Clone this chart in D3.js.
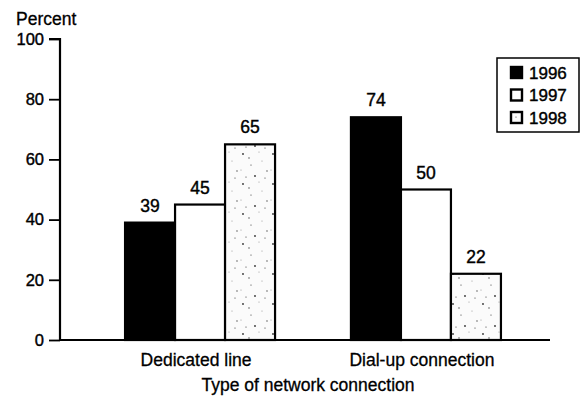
<!DOCTYPE html>
<html><head><meta charset="utf-8">
<script src="https://cdn.jsdelivr.net/npm/d3@7"></script>
<style>body{margin:0;background:#fff}text{font-family:"Liberation Sans",Arial,sans-serif;fill:#000}</style>
</head><body>
<svg id="c" width="580" height="399"></svg>
<script>
const categories = ["Dedicated line", "Dial-up connection"];
const years = ["1996", "1997", "1998"];
const values1996 = [39, 74];
const values1997 = [45, 50];
const values1998 = [65, 22];
const yTicks = [0, 20, 40, 60, 80, 100];
// fixed speckle offsets for the stippled texture (pattern decoration, not data)
const speckles = [[3,4],[19,2],[11,15],[27,21],[6,27],[22,11],[15,26],[1,20],[25,28],[9,8]];

const series = years.map((y, i) => ({year: y, values: [values1996, values1997, values1998][i]}));

const svg = d3.select("#c");
const defs = svg.append("defs");
const pat = defs.append("pattern").attr("id","stip").attr("patternUnits","userSpaceOnUse")
  .attr("width",30).attr("height",30);
pat.append("rect").attr("width",30).attr("height",30).attr("fill","#fbfbfb");
pat.selectAll("circle").data(speckles).join("circle")
  .attr("cx",d=>d[0]).attr("cy",d=>d[1]).attr("r",(d,i)=> i%3===0?0.9:0.6)
  .attr("fill",(d,i)=> i%2===0 ? "#333" : "#999");

const y = d3.scaleLinear().domain([0,100]).range([340,39]);
const x0 = d3.scaleBand().domain(categories).range([60,566]).paddingInner(0.336).paddingOuter(0.288);
const x1 = d3.scaleBand().domain(years).range([0, x0.bandwidth()]);
const fills = {"1996":"#000","1997":"#fff","1998":"url(#stip)"};
const FS = 17.5;

// bars
const g = svg.append("g");
categories.forEach((c, ci) => {
  series.forEach(s => {
    const v = s.values[ci];
    g.append("rect")
      .attr("x", x0(c) + x1(s.year))
      .attr("y", y(v))
      .attr("width", x1.bandwidth())
      .attr("height", y(0) - y(v))
      .attr("fill", fills[s.year])
      .attr("stroke", "#000").attr("stroke-width", 2.2);
    g.append("text")
      .attr("x", x0(c) + x1(s.year) + x1.bandwidth()/2)
      .attr("y", y(v) - 11)
      .attr("text-anchor","middle")
      .attr("font-size",FS).attr("stroke","#000").attr("stroke-width",0.4)
      .text(v);
  });
});

// y axis
const ax = svg.append("g").attr("transform","translate(60,0)")
  .call(d3.axisLeft(y).tickValues(yTicks).tickSize(11).tickPadding(5));
ax.select(".domain").attr("stroke-width",2.2).attr("d", `M-11,${y(100)}H0V${y(0)}`);
ax.selectAll(".tick line").attr("stroke-width",1.8);
ax.selectAll(".tick text").attr("font-size",16.5).attr("font-family","Liberation Sans, Arial, sans-serif")
  .attr("fill","#000").attr("stroke","#000").attr("stroke-width",0.4);

// baseline
svg.append("line").attr("x1",59).attr("x2",550).attr("y1",y(0)).attr("y2",y(0))
  .attr("stroke","#000").attr("stroke-width",2.2);

// category labels
svg.append("g").selectAll("text").data(categories).join("text")
  .attr("x", d => x0(d) + x0.bandwidth()/2 - 4)
  .attr("y", 366).attr("text-anchor","middle").attr("font-size",FS)
  .attr("stroke","#000").attr("stroke-width",0.3)
  .text(d => d);

svg.append("text").attr("x",308).attr("y",391).attr("text-anchor","middle")
  .attr("font-size",FS).attr("stroke","#000").attr("stroke-width",0.3)
  .text("Type of network connection");
svg.append("text").attr("x",16).attr("y",25).attr("font-size",FS)
  .attr("stroke","#000").attr("stroke-width",0.3).text("Percent");

// legend
const lg = svg.append("g");
lg.append("rect").attr("x",497).attr("y",58).attr("width",82).attr("height",74)
  .attr("fill","#fff").attr("stroke","#000").attr("stroke-width",1.5);
years.forEach((yr, i) => {
  const yy = 67 + i*22.5;
  lg.append("rect").attr("x",511).attr("y",yy).attr("width",11).attr("height",11)
    .attr("fill", fills[yr]).attr("stroke","#000").attr("stroke-width",2.4);
  lg.append("text").attr("x",529).attr("y",yy+11.5).attr("font-size",17)
    .attr("stroke","#000").attr("stroke-width",0.4).text(yr);
});
</script>
</body></html>
